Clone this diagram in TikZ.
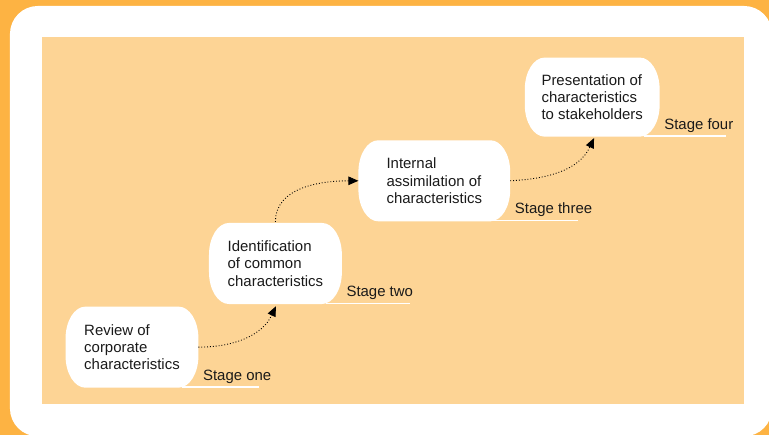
\documentclass[tikz,border=0pt]{standalone}
\usepackage{fontspec}
\setmainfont{Liberation Sans}
\usetikzlibrary{arrows.meta,calc}
\definecolor{frameorange}{HTML}{FDB343}
\definecolor{panelpeach}{HTML}{FDD495}
\definecolor{inktext}{HTML}{1A1A1A}
\pgfdeclarelayer{back}
\pgfdeclarelayer{mid}
\pgfsetlayers{back,mid,main}
% white box with elliptical corners behind a stage node
\newcommand\stageshape[1]{%
  \fill[white] ($(#1.north west)+(20pt,0pt)$) -- ($(#1.north east)+(-20pt,0pt)$)
    arc[start angle=90, end angle=0, x radius=20pt, y radius=32pt]
    -- ($(#1.south east)+(0pt,32pt)$)
    arc[start angle=0, end angle=-90, x radius=20pt, y radius=32pt]
    -- ($(#1.south west)+(20pt,0pt)$)
    arc[start angle=270, end angle=180, x radius=20pt, y radius=32pt]
    -- ($(#1.north west)+(0pt,-32pt)$)
    arc[start angle=180, end angle=90, x radius=20pt, y radius=32pt]
    -- cycle;}
\begin{document}
\begin{tikzpicture}[x=1pt,y=-1pt,
  stagebox/.style={draw=none, minimum height=81pt,
    align=left, inner sep=0pt, text=inktext,
    font=\fontsize{15}{17.5}\selectfont},
  stagelabel/.style={anchor=base west, inner sep=0pt, text=inktext,
    font=\fontsize{15}{17.5}\selectfont},
  baseline rule/.style={draw=white, line width=1.3pt},
  flow/.style={dotted, line width=0.9pt, draw=black,
    -{Triangle[length=10pt,width=8.5pt]}}]
  % outer frame and panel
  \begin{pgfonlayer}{back}
    \fill[frameorange] (0,0) rectangle (772,437);
    \fill[white, rounded corners=28pt] (10,6) rectangle (775,438);
    \fill[panelpeach] (42,37) rectangle (747,406);
  \end{pgfonlayer}
  \useasboundingbox (0,0) rectangle (772,437);

  % the four stages
  \node[stagebox, minimum width=133pt] (s1) at (132.5,348.5)
    {Review of\\corporate\\characteristics};
  \node[stagebox, minimum width=133pt] (s2) at (276.5,264.5)
    {Identification\\of common\\characteristics};
  \node[stagebox, minimum width=152pt] (s3) at (436,181.5)
    {Internal\\assimilation of\\characteristics};
  \node[stagebox, minimum width=135pt, minimum height=79pt] (s4) at (594.5,97.5)
    {Presentation of\\characteristics\\to stakeholders};

  \begin{pgfonlayer}{mid}
    \foreach \n in {s1,s2,s3,s4}{\stageshape{\n}}
  \end{pgfonlayer}

  % underlines and stage captions
  \foreach \n/\lbl/\ext in {s1/Stage one/61, s2/Stage two/68, s3/Stage three/68, s4/Stage four/67}{
    \coordinate (\n-ra) at ($(\n.south east)+(-16,-0.8)$);
    \coordinate (\n-rb) at ($(\n.south east)+(\ext,-0.8)$);
    \begin{pgfonlayer}{mid}
      \draw[baseline rule] (\n-ra) -- (\n-rb);
    \end{pgfonlayer}
    \node[stagelabel] (\n-cap) at ($(\n.south east)+(4.5,-7.5)$) {\lbl};
  }

  % dotted progression arrows
  \draw[flow, shorten >=2.5pt] (s1.east) to[out=0, in=245] ($(s2.south)+(1.5,0)$);
  \draw[flow, shorten <=1pt] (s2.north) to[out=90, in=180] (s3.west);
  \draw[flow, shorten >=1.5pt] (s3.east) to[out=3, in=245] ($(s4.south)+(2.5,0)$);
\end{tikzpicture}
\end{document}
